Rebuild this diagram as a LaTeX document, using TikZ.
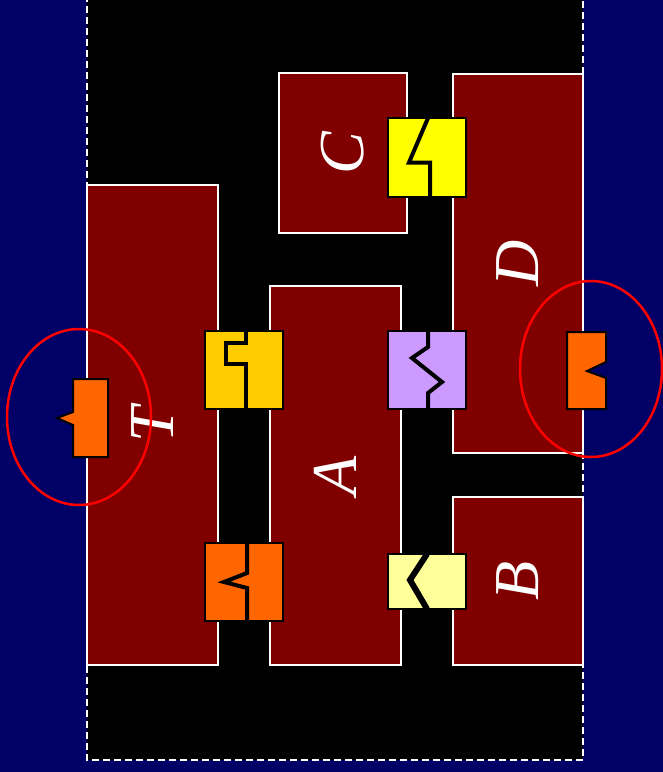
\documentclass[tikz,border=0pt]{standalone}
\usepackage{fontspec}
\setmainfont{Liberation Serif}
\definecolor{navybg}{RGB}{0,0,102}
\definecolor{boxred}{RGB}{128,0,0}
\definecolor{cyellow}{RGB}{255,255,0}
\definecolor{cgold}{RGB}{255,204,0}
\definecolor{cpurple}{RGB}{204,153,255}
\definecolor{corange}{RGB}{255,102,0}
\definecolor{clight}{RGB}{255,255,153}
\begin{document}
\begin{tikzpicture}[x=1pt,y=-1pt,
  compbox/.style={draw=white, line width=1.5pt, fill=boxred, inner sep=0pt,
    text=white, font=\fontsize{64}{64}\selectfont\itshape},
  conbox/.style={draw=black, line width=2pt, inner sep=0pt, minimum width=78pt},
  splitline/.style={draw=black, line width=4pt, line join=miter},
  portshape/.style={draw=black, line width=2pt, fill=corange, line join=miter},
  focus/.style={draw=red, line width=2.5pt}]
\useasboundingbox (0,0) rectangle (663,772);
\fill[navybg] (0,0) rectangle (663,772);
\fill[black] (87,-5) rectangle (583,760);
\draw[white, line width=1.5pt, dash pattern=on 7pt off 4pt] (87,-5) -- (87,760) -- (583,760) -- (583,-5);

% components
\node[compbox, minimum width=131pt, minimum height=480pt] (T) at (152.5,425) {\rotatebox{90}{T}};
\node[compbox, minimum width=128pt, minimum height=160pt] (C) at (343,153) {\rotatebox{90}{C}};
\node[compbox, minimum width=130pt, minimum height=379pt] (D) at (518,263.5) {\rotatebox{90}{D}};
\node[compbox, minimum width=131pt, minimum height=379pt] (A) at (335.5,475.5) {\rotatebox{90}{A}};
\node[compbox, minimum width=130pt, minimum height=168pt] (B) at (518,581) {\rotatebox{90}{B}};

% connectors
\node[conbox, fill=cyellow, minimum height=79pt] (cd) at (427,157.5) {};
\begin{scope}[shift={(cd.center)}]
  \draw[splitline] (1,-39.5) -- (-18,5) -- (3,5) -- (3,39.5);
\end{scope}

\node[conbox, fill=cgold, minimum height=78pt] (ta) at (244,370) {};
\begin{scope}[shift={(ta.center)}]
  \draw[splitline] (2,-39) -- (2,-27) -- (-18,-27) -- (-18,-6) -- (2,-6) -- (2,39);
\end{scope}

\node[conbox, fill=cpurple, minimum height=78pt] (ad) at (427,370) {};
\begin{scope}[shift={(ad.center)}]
  \draw[splitline] (1,-39) -- (1,-23) -- (-15,-12) -- (15,12) -- (1,23) -- (1,39);
\end{scope}

\node[conbox, fill=corange, minimum height=78pt] (tb) at (244,582) {};
\begin{scope}[shift={(tb.center)}]
  \draw[splitline] (3,-39) -- (3,-9) -- (-20,0) -- (3,6) -- (3,39);
\end{scope}

\node[conbox, fill=clight, minimum height=55pt] (ab) at (427,581.5) {};
\begin{scope}[shift={(ab.center)}]
  \draw[black, line width=6pt, line join=miter] (0,-27.5) -- (-17,-1.5) -- (0,27.5);
\end{scope}

% ports
\draw[portshape] (108,379) -- (73,379) -- (73,412) -- (57,418) -- (73,425) -- (73,457) -- (108,457) -- cycle;
\draw[portshape] (567,332) -- (606,332) -- (606,362) -- (587,371) -- (606,378) -- (606,409) -- (567,409) -- cycle;

% highlight ellipses
\draw[focus] (79,417) ellipse [x radius=72pt, y radius=88pt];
\draw[focus] (591,369) ellipse [x radius=71pt, y radius=88pt];
\end{tikzpicture}
\end{document}
